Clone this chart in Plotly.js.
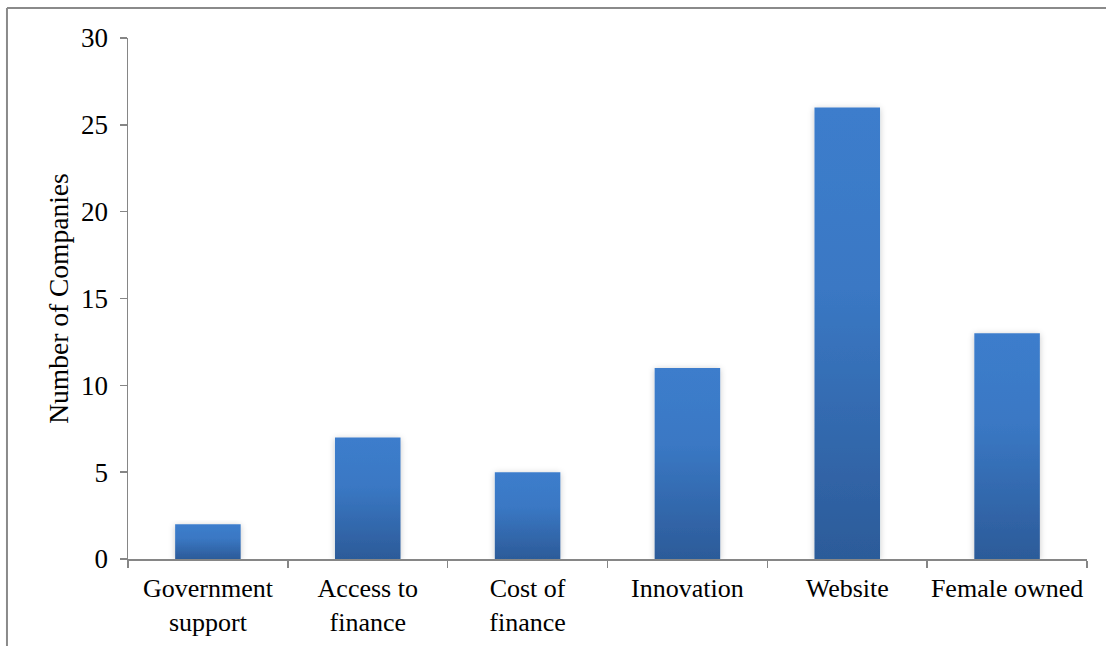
<!DOCTYPE html>
<html>
<head>
<meta charset="utf-8">
<script src="https://cdn.plot.ly/plotly-3.0.1.min.js"></script>
<style>
html,body{margin:0;padding:0;background:#fff;}
#chart{width:1106px;height:646px;}
</style>
</head>
<body>
<div id="chart"></div>
<script>
const categories = ["Government<br>support", "Access to<br>finance", "Cost of<br>finance", "Innovation", "Website", "Female owned"];
const companies = [2, 7, 5, 11, 26, 13];
const yTickValues = [0, 5, 10, 15, 20, 25, 30];

const axisGray = "#868686";
const font = {family: "'Liberation Serif', 'Times New Roman', serif", size: 26, color: "#000"};

const trace = {
  type: "bar",
  x: categories,
  y: companies,
  marker: {color: "#3569B3", line: {width: 0}},
  hoverinfo: "none"
};

const layout = {
  width: 1106, height: 646,
  margin: {l: 128, r: 19, t: 38, b: 87, pad: 0},
  paper_bgcolor: "#fff", plot_bgcolor: "#fff",
  font: font,
  bargap: 0.59,
  showlegend: false,
  xaxis: {
    type: "category",
    showline: true, linecolor: axisGray, linewidth: 1.5,
    ticks: "outside", tickson: "boundaries", ticklen: 7, tickcolor: axisGray, tickwidth: 1.5,
    showgrid: false, zeroline: false, tickangle: 0,
    tickfont: font, ticklabelstandoff: 5
  },
  yaxis: {
    range: [0, 30], tickvals: yTickValues, ticktext: yTickValues.map(String),
    showline: true, linecolor: axisGray, linewidth: 1.5,
    ticks: "outside", ticklen: 7, tickcolor: axisGray, tickwidth: 1.5,
    showgrid: false, zeroline: false,
    tickfont: {family: font.family, size: 27, color: "#000"}, ticklabelstandoff: 6,
    title: {text: "Number of Companies", font: {family: font.family, size: 27.5, color: "#000"}, standoff: 4}
  },
  shapes: [
    {type: "line", xref: "paper", yref: "paper", x0: -0.1262, x1: 1.1, y0: 1.0576, y1: 1.0576, line: {color: "#8a8a8a", width: 2}},
    {type: "line", xref: "paper", yref: "paper", x0: -0.1262, x1: -0.1262, y0: 1.0576, y1: -0.2, line: {color: "#8a8a8a", width: 2}}
  ]
};

Plotly.newPlot("chart", [trace], layout, {displayModeBar: false, staticPlot: true}).then(function(gd){
  const NS = "http://www.w3.org/2000/svg";
  const svg = gd.querySelector("svg.main-svg");
  let defs = svg.querySelector("defs");
  if (!defs) { defs = document.createElementNS(NS, "defs"); svg.insertBefore(defs, svg.firstChild); }
  const grad = document.createElementNS(NS, "linearGradient");
  grad.setAttribute("id", "barGrad");
  grad.setAttribute("x1", "0"); grad.setAttribute("y1", "0");
  grad.setAttribute("x2", "0"); grad.setAttribute("y2", "1");
  [["0%", "#3C7DCC"], ["40%", "#3A78C4"], ["100%", "#2C5B99"]].forEach(function(s){
    const st = document.createElementNS(NS, "stop");
    st.setAttribute("offset", s[0]); st.setAttribute("stop-color", s[1]);
    grad.appendChild(st);
  });
  defs.appendChild(grad);
  const filt = document.createElementNS(NS, "filter");
  filt.setAttribute("id", "barShadow");
  filt.setAttribute("x", "-30%"); filt.setAttribute("y", "-10%");
  filt.setAttribute("width", "160%"); filt.setAttribute("height", "120%");
  const ds = document.createElementNS(NS, "feDropShadow");
  ds.setAttribute("dx", "0"); ds.setAttribute("dy", "1");
  ds.setAttribute("stdDeviation", "3"); ds.setAttribute("flood-color", "#000");
  ds.setAttribute("flood-opacity", "0.22");
  filt.appendChild(ds);
  defs.appendChild(filt);
  gd.querySelectorAll(".barlayer .point path").forEach(function(p){
    p.style.fill = "url(#barGrad)";
    p.setAttribute("filter", "url(#barShadow)");
  });
});
</script>
</body>
</html>
